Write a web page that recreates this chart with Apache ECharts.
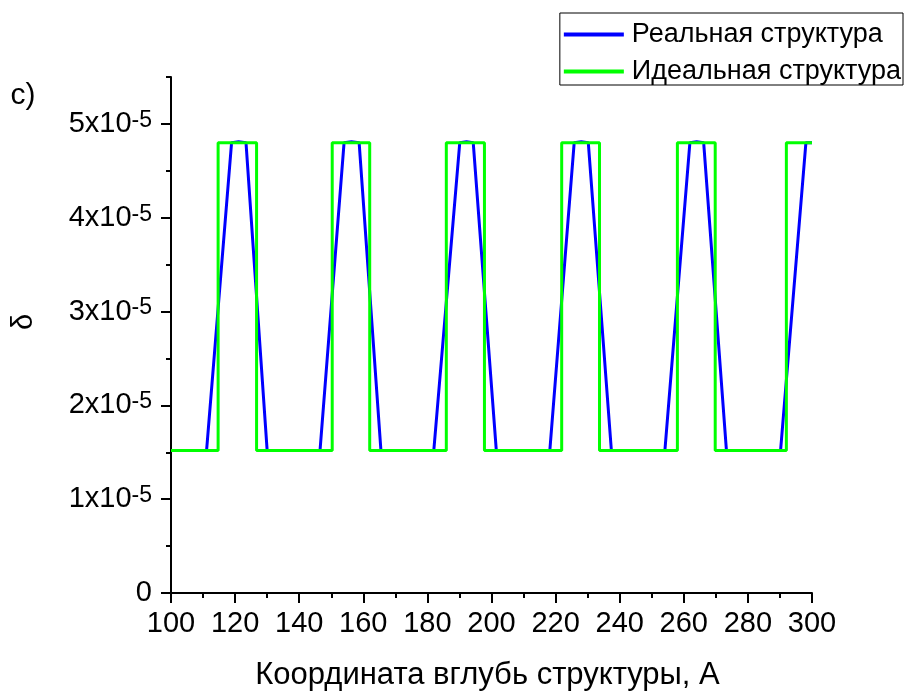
<!DOCTYPE html>
<html>
<head>
<meta charset="utf-8">
<script src="https://cdn.jsdelivr.net/npm/echarts@6/dist/echarts.min.js"></script>
<style>
html,body{margin:0;padding:0;background:#fff;}
#chart{width:907px;height:691px;}
</style>
</head>
<body>
<div id="chart"></div>
<script>
// ---- data ----
const seriesNames = ['Реальная структура', 'Идеальная структура'];
const xTitle = 'Координата вглубь структуры, А';
const yTitle = 'δ';
const panelLabel = 'c)';

const xTicks = [100, 120, 140, 160, 180, 200, 220, 240, 260, 280, 300];
const yTickValues = [0, 1e-5, 2e-5, 3e-5, 4e-5, 5e-5];
const yTickLabels = ['0', '1x10|-5', '2x10|-5', '3x10|-5', '4x10|-5', '5x10|-5'];

// Real structure (blue)
const realX = [100, 111.1, 118.9, 121.1, 123.4, 130.0,
               146.5, 154.0, 156.3, 158.7, 165.5,
               182.0, 190.1, 192.2, 194.3, 201.5,
               218.2, 225.8, 228.0, 230.2, 237.4,
               254.1, 261.9, 264.0, 266.2, 273.3,
               290.2, 298.1, 300];
const realY = [1.52e-5, 1.52e-5, 4.80e-5, 4.81e-5, 4.80e-5, 1.52e-5,
               1.52e-5, 4.80e-5, 4.81e-5, 4.80e-5, 1.52e-5,
               1.52e-5, 4.80e-5, 4.81e-5, 4.80e-5, 1.52e-5,
               1.52e-5, 4.80e-5, 4.81e-5, 4.80e-5, 1.52e-5,
               1.52e-5, 4.80e-5, 4.81e-5, 4.80e-5, 1.52e-5,
               1.52e-5, 4.80e-5, 4.80e-5];

// Ideal structure (green, rectangular)
const idealX = [100, 114.7, 114.7, 126.7, 126.7,
                150.3, 150.3, 162.0, 162.0,
                185.9, 185.9, 197.8, 197.8,
                221.9, 221.9, 233.7, 233.7,
                258.0, 258.0, 269.8, 269.8,
                292.0, 292.0, 300];
const idealY = [1.52e-5, 1.52e-5, 4.80e-5, 4.80e-5, 1.52e-5,
                1.52e-5, 4.80e-5, 4.80e-5, 1.52e-5,
                1.52e-5, 4.80e-5, 4.80e-5, 1.52e-5,
                1.52e-5, 4.80e-5, 4.80e-5, 1.52e-5,
                1.52e-5, 4.80e-5, 4.80e-5, 1.52e-5,
                1.52e-5, 4.80e-5, 4.80e-5];

// ---- build chart ----
const FONT = '"Liberation Sans", Arial, sans-serif';
const zip = (xs, ys) => xs.map((x, i) => [x, ys[i]]);

function yLabel(value) {
  let idx = -1;
  for (let i = 0; i < yTickValues.length; i++) {
    if (Math.abs(yTickValues[i] - value) < 1e-9) idx = i;
  }
  if (idx < 0) return '';
  const parts = yTickLabels[idx].split('|');
  if (parts.length === 1) return '{a|' + parts[0] + '}';
  return '{a|' + parts[0] + '}{b|' + parts[1] + '}';
}

const chart = echarts.init(document.getElementById('chart'), null, {renderer: 'canvas'});
const option = {
  backgroundColor: '#fff',
  animation: false,
  textStyle: {fontFamily: FONT},
  grid: {left: 171, right: 95, top: 77, bottom: 98, containLabel: false, outerBoundsMode: 'none'},
  legend: {
    data: seriesNames,
    orient: 'vertical',
    right: 4,
    top: 13,
    itemWidth: 60,
    itemHeight: 4,
    itemGap: 10,
    icon: 'rect',
    padding: [8, 2, 0, 4],
    borderColor: '#000',
    borderWidth: 1,
    borderRadius: 0,
    textStyle: {fontSize: 27, color: '#000', fontFamily: FONT, padding: [0, 0, 0, 3]}
  },
  xAxis: {
    type: 'value',
    min: xTicks[0],
    max: xTicks[xTicks.length - 1],
    interval: 20,
    name: xTitle,
    nameLocation: 'middle',
    nameGap: 67,
    nameTextStyle: {fontSize: 31, color: '#000', fontFamily: FONT, padding: [0, 8, 0, 0]},
    axisLine: {show: true, onZero: false, lineStyle: {color: '#000', width: 2}},
    axisTick: {show: true, inside: false, length: 10, lineStyle: {color: '#000', width: 2}},
    minorTick: {show: true, splitNumber: 2, length: 5, lineStyle: {color: '#000', width: 2}},
    axisLabel: {fontSize: 29, color: '#000', margin: 16, fontFamily: FONT},
    splitLine: {show: false},
    minorSplitLine: {show: false}
  },
  yAxis: [
    {
      type: 'value',
      min: 0,
      max: 5.5e-5,
      interval: 0.5e-5,
      position: 'left',
      axisLine: {show: true, onZero: false, lineStyle: {color: '#000', width: 2}},
      axisTick: {show: true, inside: false, length: 5, lineStyle: {color: '#000', width: 2}},
      axisLabel: {show: false},
      splitLine: {show: false}
    },
    {
      type: 'value',
      min: 0,
      max: 5.5e-5,
      interval: 0.5e-5,
      position: 'left',
      axisLine: {show: false},
      axisTick: {show: true, inside: false, length: 10, customValues: yTickValues, lineStyle: {color: '#000', width: 2}},
      axisLabel: {
        show: true,
        margin: 19,
        customValues: yTickValues,
        formatter: yLabel,
        rich: {
          a: {fontSize: 29, lineHeight: 30, color: '#000', fontFamily: FONT},
          b: {fontSize: 23, lineHeight: 23, color: '#000', fontFamily: FONT, verticalAlign: 'top'}
        }
      },
      splitLine: {show: false}
    }
  ],
  graphic: [
    {type: 'text', x: 23, y: 96, style: {text: panelLabel, font: '30px ' + FONT, fill: '#000', align: 'center', verticalAlign: 'middle'}},
    {type: 'text', x: 24, y: 322, rotation: Math.PI / 2, style: {text: yTitle, font: '29px ' + FONT, fill: '#000', align: 'center', verticalAlign: 'middle'}}
  ],
  series: [
    {
      name: seriesNames[0],
      type: 'line',
      yAxisIndex: 0,
      data: zip(realX, realY),
      showSymbol: false,
      symbol: 'none',
      lineStyle: {color: '#0000FF', width: 3},
      itemStyle: {color: '#0000FF'},
      z: 2
    },
    {
      name: seriesNames[1],
      type: 'line',
      yAxisIndex: 0,
      data: zip(idealX, idealY),
      showSymbol: false,
      symbol: 'none',
      lineStyle: {color: '#00FF00', width: 3},
      itemStyle: {color: '#00FF00'},
      z: 3
    }
  ]
};
chart.setOption(option);
</script>
</body>
</html>
